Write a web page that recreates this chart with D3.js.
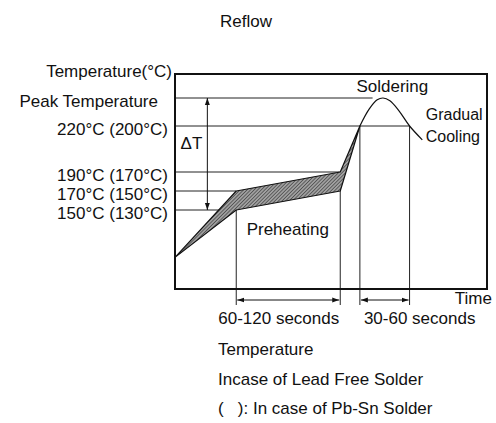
<!DOCTYPE html>
<html>
<head>
<meta charset="utf-8">
<script src="https://cdn.jsdelivr.net/npm/d3@7"></script>
<style>
  body { margin: 0; background: #fff; }
  svg text { font-family: "Liberation Sans", Arial, sans-serif; fill: #111; }
</style>
</head>
<body>
<svg></svg>
<script>
// temperature levels (lead free value, label with Pb-Sn value in brackets)
var level_temps = [150, 170, 190, 220, 250];
var level_labels = ["150°C (130°C)", "170°C (150°C)", "190°C (170°C)", "220°C (200°C)", "Peak Temperature"];
// where each level guide line stops on the time axis (seconds)
var level_ends = [53, 53, 143, 203, 171];

// preheating band, upper and lower profile (time s, temp C)
var band_upper = [[0, 108], [53, 170], [143, 190], [160, 220]];
var band_lower = [[0, 108], [53, 150], [143, 170], [160, 220]];

// soldering peak and cooling part of the profile
var peak_curve = [[160, 220], [168, 238], [175, 248], [180, 250], [186, 247], [194, 236], [203, 220], [214, 211]];

// time marks: [time, temp where the mark starts]
var time_marks = [[53, 170], [143, 170], [160, 220], [203, 220]];
var time_spans = [[53, 143, "60-120 seconds"], [160, 203, "30-60 seconds"]];

var delta_t_time = 28;
var notes = ["Temperature", "Incase of Lead Free Solder", "(   ): In case of Pb-Sn Solder"];

var width = 496, height = 423;
var margin = { left: 175, top: 74 };
var plot_w = 312, plot_h = 215;
var fs = 17;

var svg = d3.select("svg")
            .attr("width", width)
            .attr("height", height);

var defs = svg.append("defs");

var hatch = defs.append("pattern")
                .attr("id", "hatch")
                .attr("patternUnits", "userSpaceOnUse")
                .attr("width", 2.5)
                .attr("height", 2.5)
                .attr("patternTransform", "rotate(45)");
hatch.append("rect").attr("width", 2.5).attr("height", 2.5).attr("fill", "#a0a0a0");
hatch.append("line").attr("x1", 0).attr("y1", 0).attr("x2", 0).attr("y2", 2.5)
     .attr("stroke", "#333").attr("stroke-width", 1.2);

defs.append("marker")
    .attr("id", "head")
    .attr("viewBox", "0 0 10 10")
    .attr("refX", 10).attr("refY", 5)
    .attr("markerWidth", 7).attr("markerHeight", 7)
    .attr("markerUnits", "userSpaceOnUse")
    .attr("orient", "auto-start-reverse")
  .append("path")
    .attr("d", "M0,1.5L10,5L0,8.5Z")
    .attr("fill", "#111");

var x = d3.scaleLinear().domain([0, 270]).range([0, plot_w]);
// schematic temperature axis, not to scale between levels
var y = d3.scaleLinear()
          .domain([80, 150, 190, 220, 250, 275])
          .range([plot_h, 136, 98, 52, 24, 0]);

var g = svg.append("g")
           .attr("transform", "translate(" + margin.left + "," + margin.top + ")");

// title
svg.append("text")
   .attr("x", 246).attr("y", 27)
   .attr("text-anchor", "middle")
   .attr("font-size", 17)
   .text("Reflow");

// level guide lines
g.selectAll(".level")
 .data(level_temps)
 .enter().append("line")
 .attr("x1", 0)
 .attr("x2", function(d, i) { return x(level_ends[i]); })
 .attr("y1", function(d) { return y(d); })
 .attr("y2", function(d) { return y(d); })
 .attr("stroke", "#222").attr("stroke-width", 1);

// level labels
g.selectAll(".lab")
 .data(level_temps)
 .enter().append("text")
 .attr("x", function(d, i) { return i === 4 ? -17 : -7; })
 .attr("y", function(d) { return y(d) + 9; })
 .attr("text-anchor", "end")
 .attr("font-size", fs)
 .text(function(d, i) { return level_labels[i]; });

g.append("text")
 .attr("x", -3).attr("y", 3)
 .attr("text-anchor", "end")
 .attr("font-size", fs)
 .text("Temperature(°C)");

// vertical time marks
g.selectAll(".tmark")
 .data(time_marks)
 .enter().append("line")
 .attr("x1", function(d) { return x(d[0]); })
 .attr("x2", function(d) { return x(d[0]); })
 .attr("y1", function(d) { return y(d[1]); })
 .attr("y2", plot_h + 16)
 .attr("stroke", "#222").attr("stroke-width", 1);

// shaded preheating band
var band = band_upper.concat(band_lower.slice().reverse());
g.append("path")
 .attr("d", d3.line().x(function(d) { return x(d[0]); }).y(function(d) { return y(d[1]); })(band) + "Z")
 .attr("fill", "url(#hatch)")
 .attr("stroke", "#111").attr("stroke-width", 1.2)
 .attr("stroke-linejoin", "round");

// soldering peak and cooling
g.append("path")
 .attr("d", d3.line()
              .x(function(d) { return x(d[0]); })
              .y(function(d) { return y(d[1]); })
              .curve(d3.curveCatmullRom)(peak_curve))
 .attr("fill", "none")
 .attr("stroke", "#111").attr("stroke-width", 1.2);

// delta T arrow
g.append("line")
 .attr("x1", x(delta_t_time)).attr("x2", x(delta_t_time))
 .attr("y1", y(250)).attr("y2", y(150))
 .attr("stroke", "#111").attr("stroke-width", 1)
 .attr("marker-start", "url(#head)")
 .attr("marker-end", "url(#head)");

g.append("text")
 .attr("x", x(delta_t_time) - 5).attr("y", y(205))
 .attr("text-anchor", "end")
 .attr("font-size", fs)
 .text("ΔT");

// frame
g.append("rect")
 .attr("width", plot_w).attr("height", plot_h)
 .attr("fill", "none")
 .attr("stroke", "#111").attr("stroke-width", 2);

// span arrows below the axis
g.selectAll(".span")
 .data(time_spans)
 .enter().append("line")
 .attr("x1", function(d) { return x(d[0]) + 1; })
 .attr("x2", function(d) { return x(d[1]) - 1; })
 .attr("y1", plot_h + 11).attr("y2", plot_h + 11)
 .attr("stroke", "#111").attr("stroke-width", 1)
 .attr("marker-start", "url(#head)")
 .attr("marker-end", "url(#head)");

g.selectAll(".spanlab")
 .data(time_spans)
 .enter().append("text")
 .attr("x", function(d, i) { return x(d[0]) + (i === 0 ? -18 : 4); })
 .attr("y", plot_h + 35)
 .attr("font-size", fs)
 .text(function(d) { return d[2]; });

// in-plot annotations
g.append("text").attr("x", x(157)).attr("y", 18).attr("font-size", fs).text("Soldering");
g.append("text").attr("x", x(217)).attr("y", 46).attr("font-size", 16).text("Gradual");
g.append("text").attr("x", x(217)).attr("y", 68).attr("font-size", 16).text("Cooling");
g.append("text").attr("x", x(62)).attr("y", 161).attr("font-size", fs).text("Preheating");
g.append("text").attr("x", plot_w + 5).attr("y", plot_h + 15).attr("text-anchor", "end").attr("font-size", fs).text("Time");

// notes under the chart
svg.selectAll(".note")
   .data(notes)
   .enter().append("text")
   .attr("x", 218)
   .attr("y", function(d, i) { return 355 + i * 29.5; })
   .attr("font-size", fs)
   .attr("xml:space", "preserve")
   .style("white-space", "pre")
   .text(function(d) { return d; });
</script>
</body>
</html>
